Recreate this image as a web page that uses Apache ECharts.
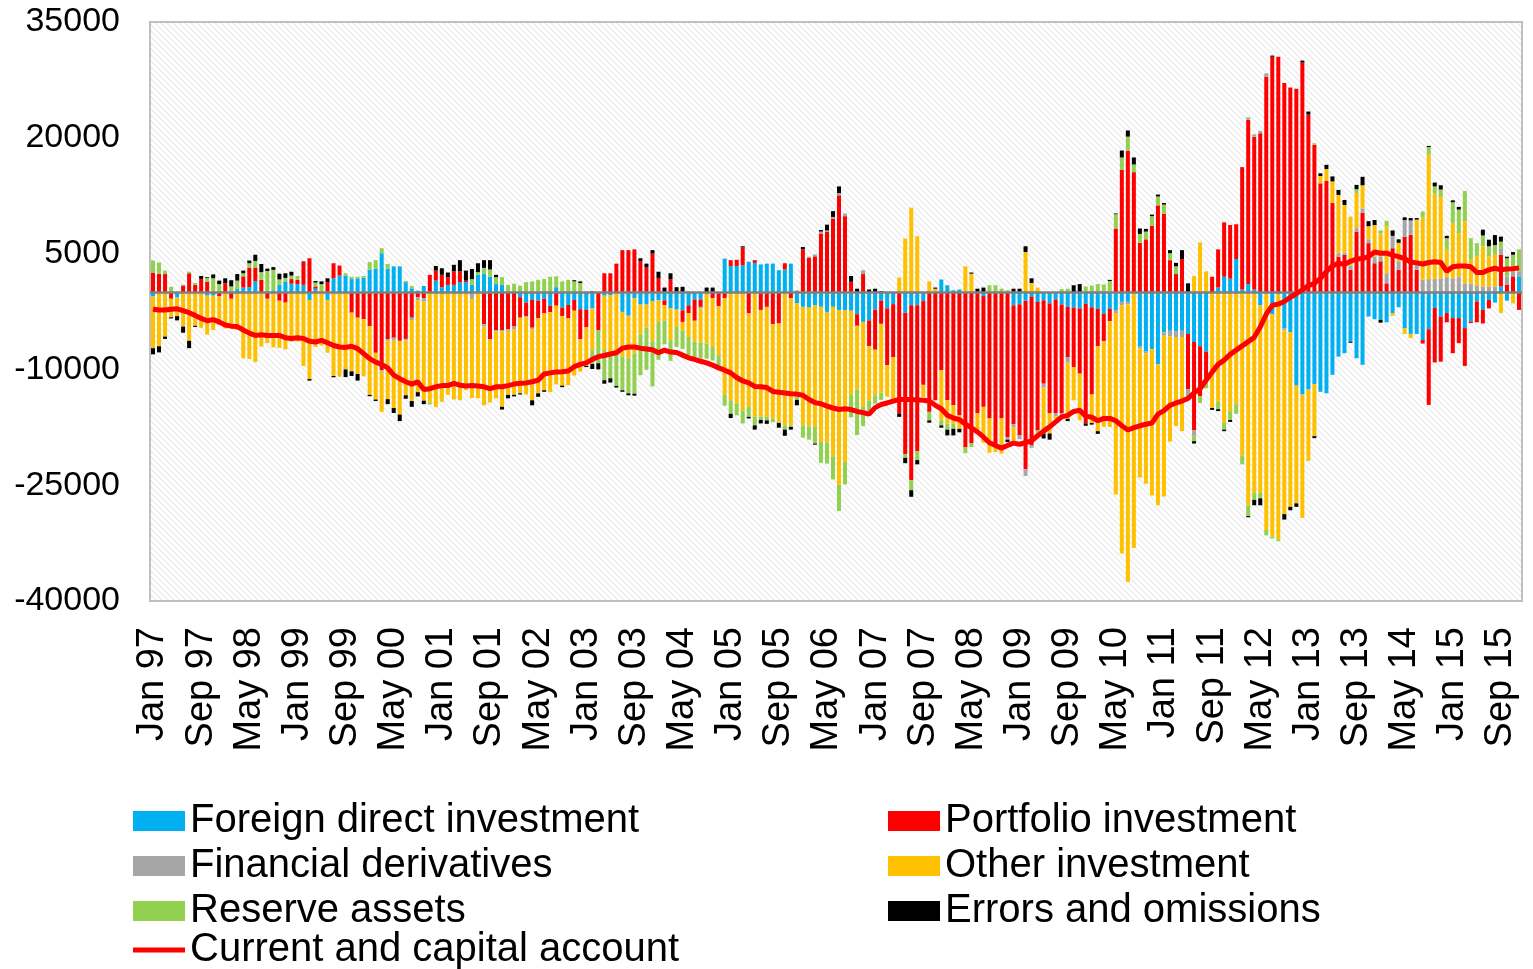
<!DOCTYPE html>
<html>
<head>
<meta charset="utf-8">
<script src="https://cdn.jsdelivr.net/npm/echarts@6/dist/echarts.min.js"></script>
<style>
  html, body { margin: 0; padding: 0; background: #fff; }
  #dashboard { width: 1533px; height: 969px; }
</style>
</head>
<body>
<div id="dashboard"></div>
<script>
// months / years used for the category axis
var monthNames = ['Jan', 'Feb', 'Mar', 'Apr', 'May', 'Jun', 'Jul', 'Aug', 'Sep', 'Oct', 'Nov', 'Dec'];
var yearLabels = ['97', '98', '99', '00', '01', '02', '03', '04', '05', '06', '07', '08', '09', '10', '11', '12', '13', '14', '15'];
var yTicks = [-40000, -25000, -10000, 5000, 20000, 35000];

// one row per year, Jan..Dec
var fdi = [
  -550, 0, 0, 0, -700, 0, 0, 0, 0, -450, -450, 0,
  0, 0, 400, 600, 650, 1400, 0, 0, 250, 950, 1400, 1100,
  1050, 950, -1000, 450, 0, -1000, 1800, 2150, 2150, 1700, 1800, 1900,
  2900, 3050, 5050, 3000, 3350, 3350, 1300, 500, 200, 800, 0, 1500,
  650, 950, 950, 1300, 1300, 950, 2250, 2350, 2000, 1050, 950, 0,
  0, -650, -1350, -1000, -1100, -850, -1750, 650, -2000, -1650, -1000, -2200,
  -2300, -2100, 0, -450, -400, 0, -2550, -3050, -750, -1600, -1600, -1150,
  -1050, -1050, -2100, -2250, -2350, -1700, -950, -950, 0, 0, 0, 4350,
  3400, 3400, 3500, 3950, 3800, 3600, 3700, 3700, 2850, 2950, 3700, -1450,
  -1900, -2000, -1700, -1900, -2550, -1900, -2350, -2350, -2400, -2850, -3850, -3650,
  -2250, -1100, -2100, -1550, 0, -2650, -1700, -1700, -1150, 0, 0, 1650,
  900, 250, 350, 0, 0, 0, -500, 0, 0, 0, 0, -1700,
  -1550, -1100, -600, -1250, -1050, -1450, -950, -1600, -1900, -2000, -2100, -1500,
  -1950, -2150, -2800, -2150, -2300, -1250, -1250, 0, -7050, -7700, -7400, -9350,
  -5200, -5000, -5100, -5000, -5400, -6450, -7000, -7700, 0, 600, 2000, 1750,
  4300, 350, 1050, 350, -1700, -200, -2850, -300, -4700, -5200, -12100, -13250,
  -12600, -11900, -12900, -13100, -10700, -8350, -7900, -6400, -8550, -9400, -3150, -3500,
  -3600, -3900, -2700, -1950, -4650, -5400, -5400, -6200, -4800, -2050, -3150, -2700,
  -3350, -3350, -4650, -3800, -1200, -2300, -1000, -1350, 750, -1100, 0, 2050
];
var portfolio = [
  2550, 2400, 2350, -850, 0, 850, 2450, 950, 1700, 1350, 0, -550,
  1150, -850, 0, 1450, 2550, 1800, 1600, -850, 0, -1100, -1350, 600,
  550, 2900, 4400, 300, 0, 1300, 1950, 1300, 0, -2650, -3300, -3500,
  -4400, -7850, -10100, -6100, -5900, -6300, -6050, -3300, -650, -800, 2250, 1300,
  1600, 1000, 1750, 1400, 200, 0, 0, -4150, -6100, -4900, -4900, -4800,
  -4450, -2650, -1750, -3600, -2250, -1850, -850, -1750, -1100, -1750, -1400, -3900,
  -2250, 150, -4900, 2450, 2450, 3700, 5450, 5450, 5550, 4000, 3200, 5000,
  1850, -650, 1650, 0, -1500, -1000, -2750, -950, 0, -750, -1800, -800,
  750, 800, 2300, -2750, 350, -2300, -1900, -4150, -4050, 800, -800, 0,
  5550, 4450, 4650, 7600, 7800, 9550, 12550, 9850, 1350, -1500, 2350, -3350,
  -5200, -3000, -7350, -6850, -15700, -18300, -22650, -18900, -10850, -15500, -14000, -10100,
  -14000, -14650, -15950, -20050, -19550, -15700, -14350, -16350, -19850, -16350, -18750, -15400,
  -16950, -21850, -19250, -16650, -10800, -14250, -14700, -14050, -6500, -7700, -8450, -15500,
  -11300, -4850, -3550, -1600, 8250, 15850, 18300, 15550, 6400, 6850, 8600, 11250,
  10150, 4150, 2350, 4300, -7150, -11450, -6450, -3700, 2000, 4950, 7050, 6950,
  4500, 15850, 21300, 19800, 20600, 27900, 30500, 30500, 27100, 26500, 26350, 29750,
  23000, 19100, 14100, 14450, 11550, 4600, 4850, 2900, 7850, 10300, 6350, 3750,
  4000, 1150, 5700, 2900, 7200, 7450, 2900, -450, -9800, -7050, -5850, -1200,
  -4550, -3250, -4900, -200, -2700, -1750, -1100, 0, 4100, 950, 2050, -2300
];
var derivatives = [
  0, 0, 0, 0, 0, 130, 0, 0, 0, 0, 0, 0,
  0, 0, 0, 0, 0, 0, 0, 0, 0, 0, 0, 0,
  0, 0, 0, 0, 0, 0, 0, -150, 0, 0, 0, 0,
  0, 0, -200, -200, -300, 0, -200, -300, -400, -400, 0, 0,
  0, 0, 0, 0, 0, -900, 0, -300, 0, -200, -200, -200,
  -350, 0, -150, -200, 0, 0, 0, 0, 0, 0, 0, 0,
  0, 0, 0, 0, 0, 0, 0, 0, 0, 0, 0, 0,
  0, 0, 0, 0, 0, 130, 0, -200, 0, 0, 0, 0,
  0, 0, 0, 0, 0, 0, 0, 0, 0, 0, 0, 250,
  0, 150, 250, 250, 200, 200, 300, 350, 0, 0, 500, 0,
  0, 0, 0, 0, 0, 0, 0, 0, 0, 0, 0, 0,
  0, 0, 0, 0, 0, 0, 0, 0, 0, 0, -350, -400,
  -550, -850, -300, 0, -500, 0, -450, -550, -650, 0, 0, 0,
  0, 0, 0, 0, -400, -450, -300, 0, -250, -200, 0, 0,
  -450, -700, -800, -800, -900, -700, 0, 0, 0, 0, 0, 0,
  0, 0, 300, 300, 300, 450, 0, 0, -250, 0, 0, 0,
  0, 0, 0, 0, 0, 450, 300, 500, 450, 550, 500, 850,
  650, 1300, 1600, 1100, 2150, 1850, 650, 1600, 1700, 1700, 1800, 1950,
  1800, 1950, 1150, 1100, 800, 750, 750, 750, 850, 1100, 650, 650
];
var otherInv = [
  -6700, -7000, -5750, -2400, -2400, -4450, -6300, -4350, -4600, -5050, -4450, -3700,
  -4700, -3850, -4900, -8550, -8650, -9050, -7050, -5750, -7150, -6100, -6050, -6400,
  -6400, -9550, -10250, -7100, -6900, -6850, -10850, -10800, -10000, -7600, -7300, -7400,
  -8900, -6050, -5200, -7550, -8800, -9550, -7100, -10500, -11900, -12850, -14300, -14900,
  -14200, -13300, -13900, -14000, -12700, -12800, -13750, -10200, -8200, -8650, -9750, -8300,
  -8500, -9800, -10000, -9200, -9750, -10000, -10350, -10200, -9000, -8650, -8400, -4200,
  -5000, -5400, 0, -7050, -7500, -7850, -5750, -5500, -7200, -3850, -3000, -5200,
  -2800, -1950, -4100, -2250, -1100, -3100, -2700, -4450, -6650, -6350, -6350, -12500,
  -14000, -14450, -15300, -12100, -16150, -13800, -14250, -12250, -12750, -17250, -16450, -11500,
  -15350, -15400, -15750, -17500, -16950, -19350, -22600, -19650, -10900, -8250, -11000, -7000,
  -5900, -8900, -4100, -5600, 1900, 6950, 10950, 7250, -1600, 1400, 450, -6500,
  -3000, -2400, -1750, 3350, 2400, -2500, -4650, -4450, -850, -4550, 0, -1750,
  0, 5200, 1200, 600, -5950, -2600, -300, 0, -7350, -4300, -6050, 0,
  -3700, -11000, -11100, -13700, -23500, -32150, -36000, -33150, -16700, -16900, -18950, -18250,
  -20800, -13650, -11450, -12200, 0, 2100, 6450, 2700, -15000, -14200, -16900, -15400,
  -14500, -21150, -27600, -26000, -24300, -30600, -28800, -31700, -23800, -22600, -15250, -16000,
  -9250, -6750, 950, 1500, 2800, 7550, 6150, 6400, 4550, 3000, 1700, 4100,
  3000, 6050, -350, 2400, -750, -550, 5850, 8100, 16100, 11050, 10550, 3550,
  7150, 5700, 8050, 3100, 3900, 5200, 3900, 4200, -2700, 0, -1450, 0
];
var reserves = [
  1550, 1450, 450, 700, 0, 0, 200, 250, 0, 500, 1800, 1050,
  0, 750, 1100, 400, 550, 850, 1000, 2750, 2650, 700, 450, 450,
  500, 0, 0, 500, 1050, 0, 0, 0, 300, 300, 200, 200,
  1000, 1100, 650, 650, 0, 0, 150, 300, 0, 0, -250, 0,
  0, 0, 0, 0, 0, 750, 350, 800, 950, 900, 1000, 950,
  1100, 850, 1300, 1400, 1600, 1700, 2000, 1400, 1400, 1600, 1400, 1200,
  0, -1800, -4300, -3900, -3250, -4300, -4400, -4550, -5200, -5300, -5450, -5850,
  -4900, -3100, -2700, -2600, -2400, -2400, -2050, -2050, -1950, -1750, -1500, -1400,
  -1750, -1500, -1700, -1300, -1100, -450, -450, -450, -150, -550, -200, -1000,
  -1600, -1700, -2150, -2700, -2700, -3000, -3400, -2900, -2900, -5900, -2500, -1400,
  -1100, -950, 0, 0, 0, -500, -1300, -1150, 0, -1100, 0, -650,
  -800, -650, 0, -800, -500, 0, 0, 900, 900, 450, 250, 0,
  0, 0, 0, -400, 0, 0, 0, 400, 450, 0, 0, 750,
  850, 1050, 1000, 1450, 1850, 1600, 1850, 1000, 1150, 1000, 1250, 1150,
  1200, 900, 1000, 0, 0, -700, -900, -1050, 0, -950, -900, -1150,
  -1250, -1150, -1400, -900, -700, -700, -250, -250, 0, 0, 0, 0,
  0, 200, 0, 0, 0, 0, 0, 0, 500, 0, 0, 0,
  350, 750, 0, 0, 0, 0, 0, 750, 1000, 950, 950, 1500,
  2700, 3050, 3900, 2800, 1650, 1400, 1300, 1150, 850, 2350, 2150, 2850
];
var errors = [
  -800, -800, -300, -150, -550, -800, -950, -150, 400, 100, 500, 450,
  650, 800, 850, 350, 350, 800, 1050, 300, 350, 750, 600, 500,
  0, 130, -200, 200, 350, 500, -170, 0, -1000, -600, -850, 0,
  -170, -200, 0, -650, -650, -850, -450, -750, -550, -450, 0, 600,
  850, 600, 850, 1450, 1300, 1300, 1150, 1000, 1200, 300, -350, -450,
  -200, -150, 0, -650, -450, -200, 0, 0, -200, 0, 150, 200,
  -150, -650, -800, -450, -550, -200, -200, -250, -250, 400, 500, 450,
  800, 600, 800, 650, 700, 0, 0, 0, 600, 600, 0, 0,
  -550, 0, 150, -200, -550, -450, -450, 0, -600, -800, -350, -700,
  300, 0, -150, 200, 750, 750, 850, 0, 750, 450, 0, 350,
  450, 150, 0, 0, -450, -700, -850, -550, 0, -300, 150, -300,
  -750, -850, -450, 0, 150, 450, 600, 0, 0, 0, -300, 450,
  450, 750, 600, 0, -650, -800, 0, 0, -300, 900, 1050, -300,
  -200, -350, 0, 150, 100, 900, 800, 900, 700, 350, 200, 250,
  200, 400, 450, 1150, 1150, -300, 0, 0, -250, -250, -200, -250,
  0, 0, -150, -700, -900, 0, 150, 0, -700, -450, -450, 250,
  400, -250, 350, 550, 650, 650, 650, -150, 550, 1100, 650, 650,
  -350, 0, 700, 450, 350, 300, 200, 0, 150, 500, 550, 300,
  250, 350, 0, 0, 0, 750, 850, 1300, 650, 200, 350, 0
];
var currentCapital = [
  -2200, -2300, -2300, -2200, -2150, -2400, -2650, -3000, -3400, -3700, -3550, -3850,
  -4250, -4400, -4450, -4900, -5300, -5600, -5500, -5600, -5600, -5600, -5900, -6000,
  -5900, -6000, -6350, -6450, -6250, -6550, -6900, -7100, -7150, -7000, -7300, -7950,
  -8600, -9050, -9350, -9800, -10750, -11200, -11600, -11900, -11600, -12600, -12500, -12250,
  -12100, -12100, -11800, -12050, -12150, -12100, -12150, -12250, -12500, -12250, -12250, -12100,
  -11900, -11800, -11750, -11600, -11400, -10600, -10450, -10350, -10300, -10200, -9650, -9350,
  -9150, -8700, -8350, -8200, -8000, -7850, -7250, -7100, -7100, -7250, -7350, -7450,
  -7850, -7500, -7750, -7800, -8150, -8500, -8700, -8950, -9150, -9450, -9800, -10100,
  -10450, -11050, -11500, -11750, -12200, -12250, -12350, -12850, -12950, -13050, -13150, -13200,
  -13350, -13900, -14300, -14450, -14750, -15000, -15200, -15100, -15200, -15450, -15600, -15800,
  -14950, -14550, -14350, -14100, -13900, -13900, -13900, -13950, -14000, -14100, -14650, -15100,
  -15950, -16300, -16500, -17100, -17550, -18100, -18750, -19500, -19850, -20200, -19850, -19550,
  -19700, -19500, -19250, -18600, -18000, -17450, -16800, -16150, -15950, -15450, -15300, -16050,
  -16200, -16650, -16350, -16350, -16650, -17300, -17850, -17550, -17300, -17100, -16950, -15800,
  -15350, -14650, -14350, -14100, -13750, -13050, -12500, -11400, -10350, -9350, -8800, -8050,
  -7500, -6950, -6400, -5850, -4500, -2850, -1700, -1550, -1200, -650, -200, 300,
  850, 1150, 1800, 2700, 3400, 3750, 3600, 4000, 4300, 4350, 4600, 5200,
  5050, 5050, 4800, 4600, 4350, 3900, 3800, 3650, 3850, 3950, 3850, 2700,
  3300, 3400, 3400, 3300, 2550, 2550, 2900, 3100, 2900, 3000, 3050, 3150
];

var categories = [];
yearLabels.forEach(function (y) {
  monthNames.forEach(function (m) { categories.push(m + ' ' + y); });
});

var FONT = '"Liberation Sans", Arial, sans-serif';

// light diagonal hatch for the plot area
function hatch() {
  var c = document.createElement('canvas');
  c.width = 6; c.height = 6;
  var ctx = c.getContext('2d');
  ctx.fillStyle = '#ffffff';
  ctx.fillRect(0, 0, 6, 6);
  ctx.strokeStyle = '#ebebeb';
  ctx.lineWidth = 1.3;
  ctx.beginPath();
  ctx.moveTo(-1, -1); ctx.lineTo(7, 7);
  ctx.moveTo(-1, 5); ctx.lineTo(1, 7);
  ctx.moveTo(5, -1); ctx.lineTo(7, 1);
  ctx.stroke();
  return c;
}

function barSeries(name, data, color) {
  return {
    name: name,
    type: 'bar',
    stack: 'fin',
    data: data,
    barWidth: 4,
    itemStyle: { color: color },
    emphasis: { disabled: true }
  };
}

// each legend block sits at a fixed place, like the two columns of the original
function legendBlock(left, top, items) {
  return {
    orient: 'vertical',
    left: left,
    top: top,
    padding: 0,
    itemWidth: 52,
    itemHeight: 20,
    itemGap: 5,
    lineStyle: { width: 5 },
    textStyle: { fontSize: 40, lineHeight: 38, color: '#000', fontFamily: FONT },
    data: items
  };
}

var myChart = echarts.init(document.getElementById('dashboard'));

var option = {
  animation: false,
  backgroundColor: '#ffffff',
  grid: {
    left: 150, right: 11, top: 22, bottom: 368,
    show: true,
    backgroundColor: { image: hatch(), repeat: 'repeat' },
    borderColor: '#c0c0c0',
    borderWidth: 2
  },
  legend: [
    legendBlock(133, 801, [
      { name: 'Foreign direct investment', icon: 'rect' },
      { name: 'Financial derivatives', icon: 'rect' },
      { name: 'Reserve assets', icon: 'rect' }
    ]),
    legendBlock(133, 930, [
      { name: 'Current and capital account', icon: 'path://M0,0H52V5H0Z' }
    ]),
    legendBlock(888, 801, [
      { name: 'Portfolio investment', icon: 'rect' },
      { name: 'Other investment', icon: 'rect' },
      { name: 'Errors and omissions', icon: 'rect' }
    ])
  ],
  xAxis: {
    type: 'category',
    data: categories,
    axisLine: { show: false },
    axisTick: { show: false },
    axisLabel: {
      interval: 7,
      rotate: 90,
      margin: 26,
      fontSize: 38,
      color: '#000',
      fontFamily: FONT
    }
  },
  yAxis: {
    type: 'value',
    min: -40000,
    max: 35000,
    axisLine: { show: false },
    axisTick: { show: false },
    splitLine: { show: false },
    axisLabel: {
      customValues: yTicks,
      formatter: function (v) { return String(v); },
      margin: 30,
      fontSize: 34,
      color: '#000',
      fontFamily: FONT
    }
  },
  series: [
    barSeries('Foreign direct investment', fdi, '#00b0f0'),
    barSeries('Portfolio investment', portfolio, '#ff0000'),
    barSeries('Financial derivatives', derivatives, '#a6a6a6'),
    barSeries('Other investment', otherInv, '#ffc000'),
    barSeries('Reserve assets', reserves, '#92d050'),
    barSeries('Errors and omissions', errors, '#000000'),
    {
      name: 'Current and capital account',
      type: 'line',
      data: currentCapital,
      symbol: 'none',
      z: 5,
      lineStyle: { color: '#ff0000', width: 5 },
      itemStyle: { color: '#ff0000' },
      markLine: {
        silent: true,
        symbol: 'none',
        label: { show: false },
        lineStyle: { color: '#7f7f7f', width: 2.5, type: 'solid' },
        data: [{ yAxis: 0 }]
      }
    }
  ]
};

myChart.setOption(option);
</script>
</body>
</html>
